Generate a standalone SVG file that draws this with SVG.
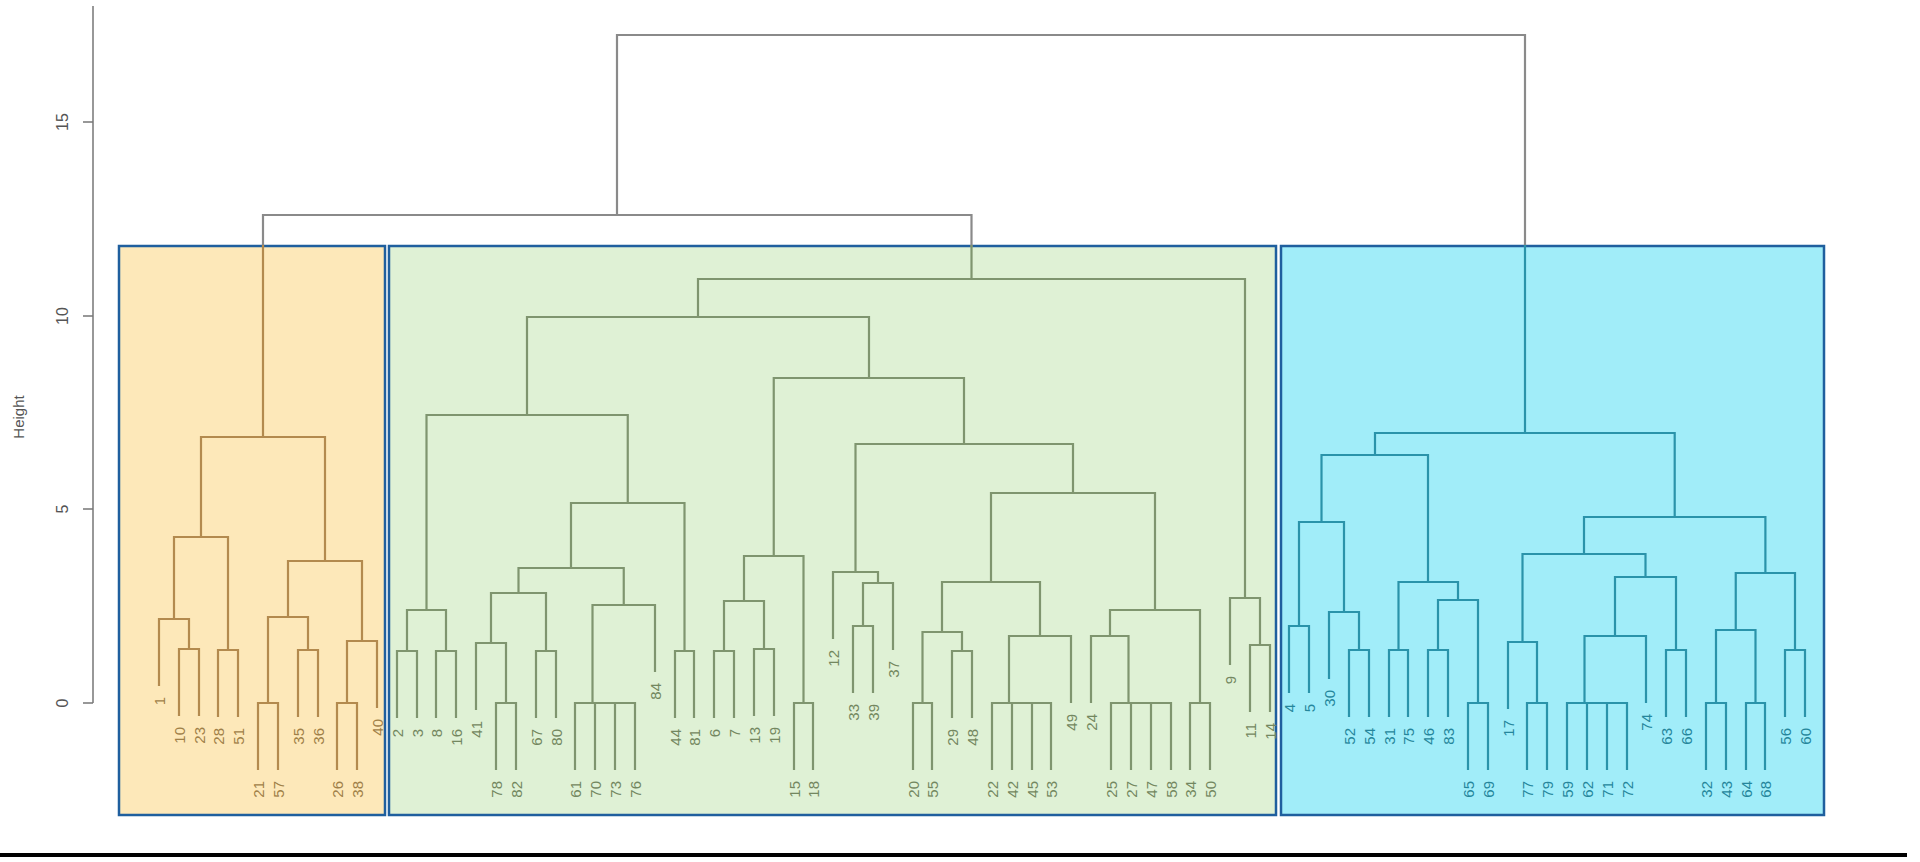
<svg xmlns="http://www.w3.org/2000/svg" width="1920" height="862" viewBox="0 0 1920 862">
<style>
.b{fill:none;stroke-width:2.2;stroke-linecap:square}
.o{stroke:#b38a4e}.g{stroke:#7f956f}.c{stroke:#2a93aa}.k{stroke:#8a8a8a}
text{font-family:"Liberation Sans",Arial,sans-serif;font-size:15px;text-anchor:end;dominant-baseline:central}
.lo{fill:#a08048}.lg{fill:#73875f}.lc{fill:#25869c}
.ax{fill:#555;text-anchor:middle;font-size:16px}
.box{stroke:#1f5f9e;stroke-width:2.5}
</style>
<rect width="1920" height="862" fill="#fff"/>
<g id="axis" stroke="#777" stroke-width="1.5">
<path d="M93,6 V703 M83,703 H93 M83,509 H93 M83,316 H93 M83,122 H93" fill="none"/>
</g>
<g id="axis-labels">
<text class="ax" x="62" y="703" transform="rotate(-90 62 703)">0</text>
<text class="ax" x="62" y="509" transform="rotate(-90 62 509)">5</text>
<text class="ax" x="62" y="316" transform="rotate(-90 62 316)">10</text>
<text class="ax" x="62" y="122" transform="rotate(-90 62 122)">15</text>
<text class="ax" x="18" y="417" transform="rotate(-90 18 417)" style="font-size:15px">Height</text>
</g>
<g id="cluster-boxes">
<rect id="box-orange" class="box" x="119" y="246" width="266" height="569" fill="#fde8b9"/>
<rect id="box-green" class="box" x="389" y="246" width="887" height="569" fill="#dff1d5"/>
<rect id="box-blue" class="box" x="1281" y="246" width="543" height="569" fill="#a1edf9"/>
</g>
<g id="connectors">
<path class="b k" d="M263,246 V215 H971.5 V246 M617,215 V35 H1525 V246"/>
<path class="b o" d="M179,715 V649 H199 V715 M159,685 V619 H189 V649 M218,716 V650 H238 V716 M174,619 V537 H228 V650 M258,769 V703 H278 V769 M298,716 V650 H318 V716 M268,703 V617 H308 V650 M337,769 V703 H357 V769 M347,703 V641 H377 V707 M288,617 V561 H362 V641 M201,537 V437 H325 V561 M263,437 V246"/>
<path class="b g" d="M397,717 V651 H417 V717 M436,717 V651 H456 V717 M407,651 V610 H446 V651 M496,769 V703 H516 V769 M476,709 V643 H506 V703 M536,717 V651 H556 V717 M491,643 V593 H546 V651 M575,769 V703 H635 V769 M595,769 V703 M615,769 V703 M592.5,703 V605 H655 V671 M518.5,593 V568 H623.75 V605 M675,717 V651 H694 V717 M571,568 V503 H684.5 V651 M426.5,610 V415 H627.75 V503 M714,717 V651 H734 V717 M754,715 V649 H774 V715 M724,651 V601 H764 V649 M794,769 V703 H813 V769 M744,601 V556 H803.5 V703 M853,692 V626 H873 V692 M863,626 V583 H893 V649 M833,638 V572 H878 V583 M913,769 V703 H932 V769 M952,717 V651 H972 V717 M922.5,703 V632 H962 V651 M992,769 V703 H1051 V769 M1012,769 V703 M1032,769 V703 M1009,703 V636 H1071 V702 M942,632 V582 H1040 V636 M1111,769 V703 H1171 V769 M1131,769 V703 M1151,769 V703 M1091,702 V636 H1128.5 V703 M1190,769 V703 H1210 V769 M1110,636 V610 H1200 V703 M991,582 V493 H1155 V610 M855.5,572 V444 H1073 V493 M773.75,556 V378 H964 V444 M527,415 V317 H869 V378 M1250,711 V645 H1270 V711 M1230,664 V598 H1260 V645 M698,317 V279 H1245 V598 M971.5,279 V246"/>
<path class="b c" d="M1289,692 V626 H1309 V692 M1349,716 V650 H1369 V716 M1329,678 V612 H1359 V650 M1299,626 V522 H1344 V612 M1389,716 V650 H1408 V716 M1428,716 V650 H1448 V716 M1468,769 V703 H1488 V769 M1438,650 V600 H1478 V703 M1398.5,650 V582 H1458 V600 M1321.5,522 V455 H1428 V582 M1527,769 V703 H1547 V769 M1508,708 V642 H1537 V703 M1567,769 V703 H1627 V769 M1587,769 V703 M1607,769 V703 M1584.5,703 V636 H1646 V702 M1666,716 V650 H1686 V716 M1615,636 V577 H1676 V650 M1522.5,642 V554 H1645.5 V577 M1706,769 V703 H1726 V769 M1746,769 V703 H1765 V769 M1716,703 V630 H1755.5 V703 M1785,716 V650 H1805 V716 M1735.75,630 V573 H1795 V650 M1584,554 V517 H1765.4 V573 M1375,455 V433 H1674.7 V517 M1525,433 V246"/>
</g>
<g id="labels-orange" class="lo">
<text x="159" y="697" transform="rotate(-90 159 697)">1</text>
<text x="179" y="727" transform="rotate(-90 179 727)">10</text>
<text x="199" y="727" transform="rotate(-90 199 727)">23</text>
<text x="218" y="728" transform="rotate(-90 218 728)">28</text>
<text x="238" y="728" transform="rotate(-90 238 728)">51</text>
<text x="258" y="781" transform="rotate(-90 258 781)">21</text>
<text x="278" y="781" transform="rotate(-90 278 781)">57</text>
<text x="298" y="728" transform="rotate(-90 298 728)">35</text>
<text x="318" y="728" transform="rotate(-90 318 728)">36</text>
<text x="337" y="781" transform="rotate(-90 337 781)">26</text>
<text x="357" y="781" transform="rotate(-90 357 781)">38</text>
<text x="377" y="719" transform="rotate(-90 377 719)">40</text>
</g>
<g id="labels-green" class="lg">
<text x="397" y="729" transform="rotate(-90 397 729)">2</text>
<text x="417" y="729" transform="rotate(-90 417 729)">3</text>
<text x="436" y="729" transform="rotate(-90 436 729)">8</text>
<text x="456" y="729" transform="rotate(-90 456 729)">16</text>
<text x="476" y="721" transform="rotate(-90 476 721)">41</text>
<text x="496" y="781" transform="rotate(-90 496 781)">78</text>
<text x="516" y="781" transform="rotate(-90 516 781)">82</text>
<text x="536" y="729" transform="rotate(-90 536 729)">67</text>
<text x="556" y="729" transform="rotate(-90 556 729)">80</text>
<text x="575" y="781" transform="rotate(-90 575 781)">61</text>
<text x="595" y="781" transform="rotate(-90 595 781)">70</text>
<text x="615" y="781" transform="rotate(-90 615 781)">73</text>
<text x="635" y="781" transform="rotate(-90 635 781)">76</text>
<text x="655" y="683" transform="rotate(-90 655 683)">84</text>
<text x="675" y="729" transform="rotate(-90 675 729)">44</text>
<text x="694" y="729" transform="rotate(-90 694 729)">81</text>
<text x="714" y="729" transform="rotate(-90 714 729)">6</text>
<text x="734" y="729" transform="rotate(-90 734 729)">7</text>
<text x="754" y="727" transform="rotate(-90 754 727)">13</text>
<text x="774" y="727" transform="rotate(-90 774 727)">19</text>
<text x="794" y="781" transform="rotate(-90 794 781)">15</text>
<text x="813" y="781" transform="rotate(-90 813 781)">18</text>
<text x="833" y="650" transform="rotate(-90 833 650)">12</text>
<text x="853" y="704" transform="rotate(-90 853 704)">33</text>
<text x="873" y="704" transform="rotate(-90 873 704)">39</text>
<text x="893" y="661" transform="rotate(-90 893 661)">37</text>
<text x="913" y="781" transform="rotate(-90 913 781)">20</text>
<text x="932" y="781" transform="rotate(-90 932 781)">55</text>
<text x="952" y="729" transform="rotate(-90 952 729)">29</text>
<text x="972" y="729" transform="rotate(-90 972 729)">48</text>
<text x="992" y="781" transform="rotate(-90 992 781)">22</text>
<text x="1012" y="781" transform="rotate(-90 1012 781)">42</text>
<text x="1032" y="781" transform="rotate(-90 1032 781)">45</text>
<text x="1051" y="781" transform="rotate(-90 1051 781)">53</text>
<text x="1071" y="714" transform="rotate(-90 1071 714)">49</text>
<text x="1091" y="714" transform="rotate(-90 1091 714)">24</text>
<text x="1111" y="781" transform="rotate(-90 1111 781)">25</text>
<text x="1131" y="781" transform="rotate(-90 1131 781)">27</text>
<text x="1151" y="781" transform="rotate(-90 1151 781)">47</text>
<text x="1171" y="781" transform="rotate(-90 1171 781)">58</text>
<text x="1190" y="781" transform="rotate(-90 1190 781)">34</text>
<text x="1210" y="781" transform="rotate(-90 1210 781)">50</text>
<text x="1230" y="676" transform="rotate(-90 1230 676)">9</text>
<text x="1250" y="723" transform="rotate(-90 1250 723)">11</text>
<text x="1270" y="723" transform="rotate(-90 1270 723)">14</text>
</g>
<g id="labels-blue" class="lc">
<text x="1289" y="704" transform="rotate(-90 1289 704)">4</text>
<text x="1309" y="704" transform="rotate(-90 1309 704)">5</text>
<text x="1329" y="690" transform="rotate(-90 1329 690)">30</text>
<text x="1349" y="728" transform="rotate(-90 1349 728)">52</text>
<text x="1369" y="728" transform="rotate(-90 1369 728)">54</text>
<text x="1389" y="728" transform="rotate(-90 1389 728)">31</text>
<text x="1408" y="728" transform="rotate(-90 1408 728)">75</text>
<text x="1428" y="728" transform="rotate(-90 1428 728)">46</text>
<text x="1448" y="728" transform="rotate(-90 1448 728)">83</text>
<text x="1468" y="781" transform="rotate(-90 1468 781)">65</text>
<text x="1488" y="781" transform="rotate(-90 1488 781)">69</text>
<text x="1508" y="720" transform="rotate(-90 1508 720)">17</text>
<text x="1527" y="781" transform="rotate(-90 1527 781)">77</text>
<text x="1547" y="781" transform="rotate(-90 1547 781)">79</text>
<text x="1567" y="781" transform="rotate(-90 1567 781)">59</text>
<text x="1587" y="781" transform="rotate(-90 1587 781)">62</text>
<text x="1607" y="781" transform="rotate(-90 1607 781)">71</text>
<text x="1627" y="781" transform="rotate(-90 1627 781)">72</text>
<text x="1646" y="714" transform="rotate(-90 1646 714)">74</text>
<text x="1666" y="728" transform="rotate(-90 1666 728)">63</text>
<text x="1686" y="728" transform="rotate(-90 1686 728)">66</text>
<text x="1706" y="781" transform="rotate(-90 1706 781)">32</text>
<text x="1726" y="781" transform="rotate(-90 1726 781)">43</text>
<text x="1746" y="781" transform="rotate(-90 1746 781)">64</text>
<text x="1765" y="781" transform="rotate(-90 1765 781)">68</text>
<text x="1785" y="728" transform="rotate(-90 1785 728)">56</text>
<text x="1805" y="728" transform="rotate(-90 1805 728)">60</text>
</g>
<g id="baseline-rule"><path d="M0,855 H1907" stroke="#000" stroke-width="4"/></g>
</svg>
